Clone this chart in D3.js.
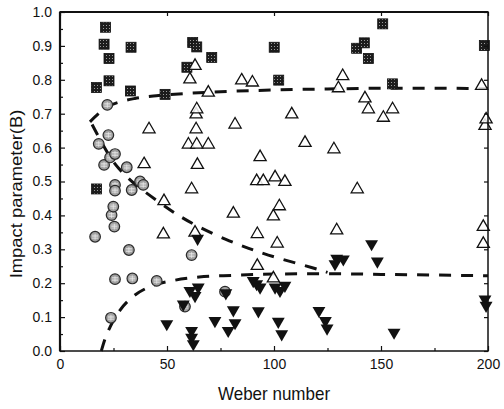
<html>
<head>
<meta charset="utf-8">
<title>impact parameter vs weber number</title>
<script src="https://cdn.jsdelivr.net/npm/d3@7"></script>
<style>
body { margin: 0; background: white; }
text { font-family: "Liberation Sans", Arial, sans-serif; fill: #111; }
</style>
</head>
<body>
<svg id="chart" width="504" height="409"></svg>
<script>
// data: [weber number, impact parameter]
var squares = [[17.0,0.777],[17.1,0.478],[20.6,0.905],[21.3,0.955],[22.9,0.863],[22.9,0.797],
  [32.9,0.767],[33.2,0.896],[49.1,0.757],[59.3,0.837],[62.0,0.910],[63.9,0.897],[70.9,0.866],
  [100.1,0.896],[102.2,0.799],[138.6,0.893],[142.2,0.909],[144.1,0.863],[150.8,0.965],
  [155.4,0.788],[198.3,0.901]];

var circles = [[16.4,0.337],[18.1,0.611],[20.6,0.549],[22.1,0.726],[22.6,0.637],[23.4,0.571],
  [23.8,0.098],[24.1,0.401],[24.9,0.426],[25.4,0.367],[25.7,0.581],[25.7,0.490],[25.7,0.473],
  [25.7,0.212],[31.2,0.542],[32.2,0.298],[33.5,0.475],[33.8,0.214],[37.4,0.500],[38.9,0.490],
  [45.2,0.207],[58.4,0.131],[61.5,0.283],[77.1,0.175]];

var tri_up = [[39.3,0.554],[41.6,0.657],[48.3,0.347],[48.6,0.445],[60.0,0.612],[60.7,0.804],
  [61.5,0.480],[63.1,0.844],[63.1,0.352],[63.6,0.701],[63.6,0.657],[63.9,0.716],[63.9,0.612],
  [64.2,0.552],[69.3,0.765],[69.3,0.612],[81.0,0.408],[81.8,0.671],[84.9,0.801],[89.9,0.795],
  [91.9,0.504],[92.2,0.254],[92.2,0.348],[93.5,0.575],[95.0,0.504],[99.7,0.400],[99.7,0.217],
  [100.5,0.515],[101.5,0.320],[102.5,0.430],[105.1,0.502],[108.3,0.701],[114.5,0.617],
  [128.0,0.598],[129.3,0.359],[130.1,0.778],[132.1,0.814],[138.9,0.480],[142.5,0.748],
  [144.1,0.716],[151.1,0.691],[155.4,0.716],[197.0,0.785],[197.8,0.369],[197.8,0.319],
  [198.6,0.667],[199.1,0.686]];

var tri_down = [[49.9,0.077],[57.6,0.135],[60.7,0.175],[61.5,0.057],[61.5,0.037],[62.3,0.018],
  [63.1,0.160],[64.3,0.329],[64.6,0.185],[72.4,0.086],[77.5,0.168],[78.6,0.057],[81.0,0.118],
  [81.8,0.080],[90.3,0.204],[91.9,0.195],[92.7,0.115],[93.5,0.185],[100.5,0.185],[102.0,0.084],
  [102.8,0.175],[103.6,0.047],[105.1,0.190],[121.0,0.116],[124.0,0.086],[124.8,0.064],
  [128.5,0.254],[129.3,0.270],[132.4,0.268],[145.6,0.313],[148.3,0.262],[156.1,0.052],
  [198.6,0.150],[199.1,0.131]];

// dashed boundary curves
var curve_upper = [[14,0.676],[18,0.700],[22,0.720],[28,0.735],[35,0.745],[45,0.753],[60,0.760],
  [80,0.766],[100,0.770],[125,0.773],[150,0.775],[175,0.775],[200,0.774]];
var curve_middle = [[15,0.668],[19,0.620],[23,0.575],[27,0.540],[34,0.495],[45,0.445],[55,0.400],
  [65,0.365],[78,0.327],[88,0.303],[97,0.283],[108,0.263],[118,0.246],[125,0.232]];
var curve_lower = [[19.3,0.0],[21,0.035],[23.5,0.072],[28,0.120],[34,0.160],[42,0.190],[53,0.208],
  [65,0.218],[80,0.223],[100,0.227],[125,0.228],[150,0.226],[175,0.224],[200,0.222]];

var x_ticks = [0, 50, 100, 150, 200];
var y_ticks = [0.0, 0.1, 0.2, 0.3, 0.4, 0.5, 0.6, 0.7, 0.8, 0.9, 1.0];

var plot_left = 60, plot_right = 488, plot_top = 12, plot_bottom = 351;

var x = d3.scaleLinear().domain([0, 200]).range([plot_left, plot_right]);
var y = d3.scaleLinear().domain([0, 1]).range([plot_bottom, plot_top]);

var svg = d3.select("#chart");

// marker fills
var defs = svg.append("defs");
var sq = defs.append("pattern").attr("id", "sqfill").attr("patternUnits", "userSpaceOnUse")
  .attr("width", 3).attr("height", 3);
sq.append("rect").attr("width", 3).attr("height", 3).attr("fill", "#1c1c1c");
sq.append("rect").attr("x", 1).attr("y", 1).attr("width", 1).attr("height", 1).attr("fill", "#9a9a9a");

var plot = svg.append("g");

// curves
var line = d3.line().x(function(d) { return x(d[0]); }).y(function(d) { return y(d[1]); })
  .curve(d3.curveMonotoneX);
var line_mid = d3.line().x(function(d) { return x(d[0]); }).y(function(d) { return y(d[1]); })
  .curve(d3.curveBasis);

[curve_upper, curve_lower].forEach(function(c) {
  plot.append("path").attr("d", line(c)).attr("fill", "none").attr("stroke", "#111")
    .attr("stroke-width", 3).attr("stroke-dasharray", "12,10");
});
plot.append("path").attr("d", line_mid(curve_middle)).attr("fill", "none").attr("stroke", "#111")
  .attr("stroke-width", 3).attr("stroke-dasharray", "12,10");

// squares
plot.append("g").selectAll("rect").data(squares).enter().append("rect")
  .attr("x", function(d) { return x(d[0]) - 5; })
  .attr("y", function(d) { return y(d[1]) - 5; })
  .attr("width", 10).attr("height", 10)
  .attr("fill", "url(#sqfill)").attr("stroke", "#111").attr("stroke-width", 0.8);

// circles
var cg = plot.append("g").selectAll("g").data(circles).enter().append("g")
  .attr("transform", function(d) { return "translate(" + x(d[0]) + "," + y(d[1]) + ")"; });
cg.append("circle").attr("r", 5.3).attr("fill", "#a0a0a0").attr("stroke", "#2a2a2a").attr("stroke-width", 1.2);
cg.append("path").attr("d", "M-3,0H3M0,-3V3M-3,-1.5H3M-3,1.5H3")
  .attr("stroke", "#eee").attr("stroke-width", 0.7);

// open up triangles
var tri = d3.symbol().type(d3.symbolTriangle).size(64);
plot.append("g").selectAll("path").data(tri_up).enter().append("path")
  .attr("d", tri)
  .attr("transform", function(d) { return "translate(" + x(d[0]) + "," + (y(d[1]) + 1) + ")"; })
  .attr("fill", "white").attr("fill-opacity", 0.85).attr("stroke", "#111").attr("stroke-width", 1.3);

// filled down triangles
var tri_big = d3.symbol().type(d3.symbolTriangle).size(72);
plot.append("g").selectAll("path").data(tri_down).enter().append("path")
  .attr("d", tri_big)
  .attr("transform", function(d) { return "translate(" + x(d[0]) + "," + (y(d[1]) - 1) + ") rotate(180)"; })
  .attr("fill", "#111");

// axes, ticks inward
function tidy(g) {
  g.select(".domain").remove();
  g.selectAll(".tick line").attr("stroke", "#111").attr("stroke-width", 1.2);
  g.selectAll("text").attr("font-size", 14).attr("fill", "#111");
}

svg.append("g").attr("transform", "translate(0," + plot_bottom + ")")
  .call(d3.axisBottom(x).tickValues(x_ticks).tickSize(-5).tickPadding(8)
    .tickFormat(d3.format("d")))
  .call(tidy);
svg.append("g").attr("transform", "translate(0," + plot_bottom + ")")
  .call(d3.axisBottom(x).tickValues(d3.range(25, 200, 50)).tickSize(-3).tickFormat(""))
  .call(tidy);
svg.append("g").attr("transform", "translate(" + plot_left + ",0)")
  .call(d3.axisLeft(y).tickValues(y_ticks).tickSize(-5).tickPadding(8)
    .tickFormat(d3.format(".1f")))
  .call(tidy);
svg.append("g").attr("transform", "translate(" + plot_left + ",0)")
  .call(d3.axisLeft(y).tickValues(d3.range(0.05, 1, 0.1)).tickSize(-3).tickFormat(""))
  .call(tidy);
svg.append("g").attr("transform", "translate(" + plot_right + ",0)")
  .call(d3.axisRight(y).tickValues(y_ticks).tickSize(-4).tickFormat(""))
  .call(tidy);
svg.append("g").attr("transform", "translate(0," + plot_top + ")")
  .call(d3.axisTop(x).tickValues(x_ticks).tickSize(-4).tickFormat(""))
  .call(tidy);

// frame
svg.append("rect").attr("x", plot_left).attr("y", plot_top)
  .attr("width", plot_right - plot_left).attr("height", plot_bottom - plot_top)
  .attr("fill", "none").attr("stroke", "#111").attr("stroke-width", 1.5);
svg.append("line").attr("x1", plot_left).attr("x2", plot_left).attr("y1", plot_top).attr("y2", plot_bottom)
  .attr("stroke", "#111").attr("stroke-width", 2.2);
svg.append("line").attr("x1", plot_left).attr("x2", plot_right).attr("y1", plot_top).attr("y2", plot_top)
  .attr("stroke", "#111").attr("stroke-width", 2);

// titles
svg.append("text").attr("transform", "translate(" + ((plot_left + plot_right) / 2) + ",400) scale(1,1.08)")
  .attr("text-anchor", "middle").attr("font-size", 17).text("Weber number");
svg.append("text").attr("transform", "translate(22,194) rotate(-90) scale(1.15,1)")
  .attr("text-anchor", "middle").attr("font-size", 16).text("Impact parameter(B)");
</script>
</body>
</html>
